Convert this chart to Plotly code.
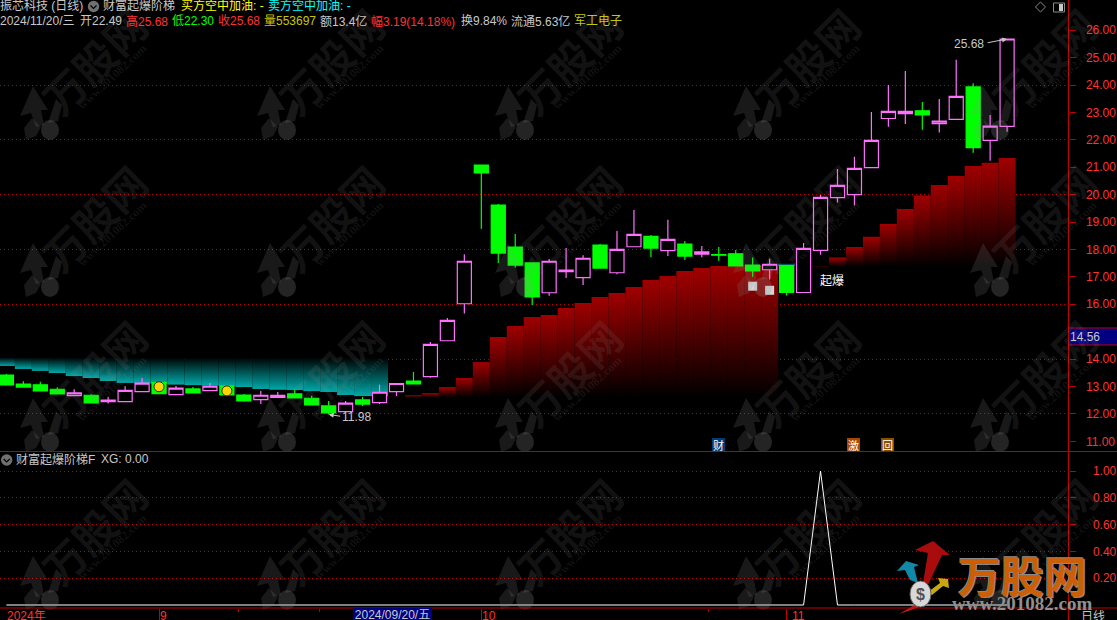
import plotly.graph_objects as go

# ---------- data ----------
opens  = [13.42,13.09,13.06,12.90,12.67,12.68,12.45,12.45,12.81,13.14,12.70,12.91,12.85,13.02,12.69,12.52,12.60,12.73,12.57,12.29,
          12.08,12.51,12.41,12.81,13.20,13.36,14.67,16.02,21.08,19.62,18.09,17.51,16.42,17.19,16.97,18.16,17.15,18.10,18.48,17.96,
          18.20,17.83,17.81,17.84,17.43,17.26,17.41,16.43,17.97,19.89,20.00,20.99,22.78,22.96,23.06,22.59,22.75,23.93,21.98,22.49]
highs  = [13.46,13.19,13.17,12.97,12.90,12.72,12.62,13.01,13.31,13.18,13.02,12.98,13.13,13.02,12.73,12.84,12.80,12.88,12.66,12.47,
          12.47,12.62,13.06,13.11,13.53,14.62,15.50,17.83,21.08,19.66,18.56,17.51,17.65,18.05,17.79,18.20,18.67,19.44,18.53,19.08,
          18.31,18.13,18.09,17.98,17.71,17.66,17.41,18.24,19.99,20.94,21.38,23.02,24.00,24.51,23.38,23.49,24.92,24.07,22.91,25.68]
lows   = [13.03,12.98,12.84,12.73,12.67,12.40,12.38,12.45,12.81,12.74,12.70,12.74,12.85,12.69,12.44,12.36,12.60,12.58,12.33,11.98,
          12.08,12.29,12.36,12.65,13.09,13.32,14.67,15.66,18.76,17.51,17.34,15.97,16.31,16.96,16.70,17.32,17.10,18.10,17.72,17.76,
          17.62,17.72,17.59,17.40,17.00,16.90,16.32,16.43,17.81,19.71,19.60,20.99,22.48,22.58,22.37,22.27,22.75,21.53,21.24,22.30]
closes = [13.06,12.98,12.84,12.73,12.77,12.40,12.50,12.86,13.12,12.74,12.94,12.77,13.01,12.69,12.47,12.68,12.68,12.58,12.33,12.04,
          12.39,12.36,12.79,13.11,13.09,14.54,15.41,17.57,20.79,17.87,17.43,16.27,17.57,17.25,17.68,17.32,18.00,18.55,18.05,18.37,
          17.76,17.91,17.79,17.40,17.22,17.46,16.43,18.04,19.90,20.34,20.96,21.98,23.04,23.04,22.91,22.68,23.59,21.72,22.50,25.68]
xg = [0]*48 + [1] + [0]*11

teal_steps = [13.75,13.64,13.57,13.49,13.38,13.31,13.20,13.13,13.12,13.10,13.07,13.05,13.04,13.02,12.98,12.91,12.88,12.87,12.83,12.80,12.69,12.65,12.65]
teal_top = 14.06
red_left_idx = list(range(23, 46))
red_left = [12.62,12.68,12.76,12.98,13.31,13.89,14.81,15.21,15.54,15.61,15.86,16.05,16.27,16.41,16.63,16.89,17.03,17.21,17.32,17.40,17.41,17.42,17.43]
red_left_base = 12.60
red_right_idx = list(range(48, 60))
red_right = [17.39,17.71,18.09,18.46,18.93,19.48,19.97,20.35,20.68,21.05,21.16,21.34]
red_right_base = 17.37
teal_thin_idx, teal_thin_low, teal_thin_high = 46, 17.41, 17.50

dot_idx = [9, 13]
dot_val = [12.99, 12.84]
sq_idx = [44, 45]
sq_val = [16.66, 16.51]

price_ticks = [11, 12, 13, 14, 16, 17, 18, 19, 20, 21, 22, 23, 24, 25, 26]
grid_ticks = [12, 14, 16, 18, 20, 22, 24]
sub_ticks = [0.2, 0.4, 0.6, 0.8, 1.0]
month_major = [9, 28, 46]
month_minor = [13.7, 18.45, 41.4]

# ---------- layout helpers (pixels) ----------
W, H = 1117, 620
AX = 1068.5
RED = "#ff3232"
LINE = "#c00000"
GRID = "#c00000"
GRAY = "#c8c8c8"
CJK = "Noto Sans CJK SC"
LAT = "Liberation Sans"
MIX = "Liberation Sans, Noto Sans CJK SC"

def px(x): return x / W
def py(y): return 1 - y / H

fig = go.Figure()
ix = list(range(60))

def column(i, v, base, top_color):
    # one stepped column filled from its own value (colour) to the base (black)
    xs = [i - 0.5, i + 0.5]
    fig.add_trace(go.Scatter(x=xs, y=[base, base], mode="lines", line=dict(width=0), showlegend=False, hoverinfo="skip"))
    fig.add_trace(go.Scatter(x=xs, y=[v, v], mode="lines", line=dict(width=0), showlegend=False, hoverinfo="skip", fill="tonexty",
                             fillgradient=dict(type="vertical", colorscale=[[0, top_color], [1, "#000000"]], start=v, stop=base)))

for i, v in enumerate(teal_steps):
    column(i, v, teal_top, "#00a8a8")
column(teal_thin_idx, teal_thin_low, teal_thin_high, "#00a8a8")
for i, v in zip(red_left_idx, red_left):
    column(i, v, red_left_base, "#a00000")
for i, v in zip(red_right_idx, red_right):
    column(i, v, red_right_base, "#a00000")

fig.add_trace(go.Candlestick(x=ix, open=opens, high=highs, low=lows, close=closes, yaxis="y2",
                             increasing=dict(line=dict(color="#ff70ff", width=1.2), fillcolor="rgba(0,0,0,1)"),
                             decreasing=dict(line=dict(color="#00ff00", width=1.2), fillcolor="#00ff00"),
                             whiskerwidth=0, showlegend=False, hoverinfo="skip"))
fig.add_trace(go.Scatter(x=dot_idx, y=dot_val, yaxis="y2", mode="markers", showlegend=False, hoverinfo="skip",
                         marker=dict(symbol="circle", size=10, color="#ffd400", line=dict(color="#3a2a00", width=1))))
fig.add_trace(go.Scatter(x=sq_idx, y=sq_val, yaxis="y2", mode="markers", showlegend=False, hoverinfo="skip",
                         marker=dict(symbol="square", size=9, color="#d4d4d4", line=dict(width=0))))
fig.add_trace(go.Scatter(x=ix, y=xg, xaxis="x3", yaxis="y3", mode="lines", line=dict(color="#ffffff", width=1), showlegend=False, hoverinfo="skip"))

ann = []
def T(x, y, s, color=GRAY, size=12, fam=MIX, anchor="left", va="middle", **kw):
    font = dict(color=color, size=size, family=fam)
    if "shadow" in kw:
        font["shadow"] = kw.pop("shadow")
    ann.append(dict(xref="paper", yref="paper", x=px(x), y=py(y), text=s, showarrow=False, xanchor=anchor, yanchor=va,
                    font=font, borderpad=0, borderwidth=0, **kw))

shapes = []
def poly(pts, color):
    path = "M" + " L".join(f"{px(a):.5f},{py(b):.5f}" for a, b in pts) + " Z"
    shapes.append(dict(type="path", xref="paper", yref="paper", path=path, fillcolor=color, line=dict(width=0), layer="above"))
def circle(x0, x1, y0, y1, fill, **line):
    shapes.append(dict(type="circle", xref="paper", yref="paper", x0=px(x0), x1=px(x1), y0=py(y1), y1=py(y0),
                       fillcolor=fill, line=line or dict(width=0)))
def seg(pts, color, width=1):
    path = "M" + " L".join(f"{px(a):.5f},{py(b):.5f}" for a, b in pts)
    shapes.append(dict(type="path", xref="paper", yref="paper", path=path, line=dict(color=color, width=width)))

# watermark tiles
WM = "rgba(150,150,150,0.12)"
WI = "rgba(150,150,150,0.17)"
for cx in (93, 330, 568, 806, 1043):
    for cy in (60, 217, 372, 530):
        T(cx, cy, "<b>万股网</b>", WM, 42, CJK, "center", textangle=-45)
        T(cx+19, cy+17, "<b>www.201082.com</b>", WM, 12, "Liberation Serif", "center", textangle=-43)
        ox, oy = cx-53, cy+53
        poly([(ox-20,oy+3),(ox-7,oy-27),(ox+8,oy-3),(ox+1,oy-3),(ox+4,oy+12),(ox-4,oy+14),(ox-9,oy)], WI)
        poly([(ox-16,oy+15),(ox-8,oy+5),(ox+1,oy+14),(ox-4,oy+23),(ox-14,oy+27)], WI)
        poly([(ox+8,oy+10),(ox+16,oy-14),(ox+22,oy-8),(ox+18,oy+8)], WI)
        circle(ox+1, ox+19, oy+7, oy+27, "rgba(150,150,150,0.24)")

# header row 1
T(0, 6, "振芯科技 (日线)")
T(103, 6, "财富起爆阶梯")
T(181, 6, "买方空中加油: -", "#ffff00")
T(268, 6, "卖方空中加油: -", "#00ffff")
# header row 2
T(0, 21, "2024/11/20/三")
T(80, 21, "开22.49")
T(126, 21, "高25.68", RED)
T(172, 21, "低22.30", "#00ff00")
T(218, 21, "收25.68", RED)
T(264, 21, "量553697", "#c8c800")
T(320, 21, "额13.4亿")
T(371, 21, "幅3.19(14.18%)", RED)
T(461, 21, "换9.84%")
T(511, 21, "流通5.63亿")
T(574, 21, "军工电子", "#c8c800")
# labels in the chart
T(954, 44, "25.68", GRAY, 12, LAT)
T(820, 279, "起爆", "#ffffff", 12, CJK)
T(342, 417, "11.98", GRAY, 12, LAT)
ann.append(dict(xref="x", yref="y2", x=59, y=25.68, ax=-21, ay=4, showarrow=True, arrowhead=2, arrowsize=1, arrowwidth=1, arrowcolor=GRAY, text=""))
ann.append(dict(xref="x", yref="y2", x=19, y=11.98, ax=13, ay=2, showarrow=True, arrowhead=2, arrowsize=1, arrowwidth=1, arrowcolor=GRAY, text=""))
# sub panel title
T(16, 459, "财富起爆阶梯F")
T(101, 459, "XG: 0.00", GRAY, 12, LAT)
# right price tag
shapes.append(dict(type="rect", xref="paper", yref="paper", x0=px(AX), x1=1, y0=py(345), y1=py(328), fillcolor="#000080", line=dict(width=0), layer="above"))
for yy in (328, 345):
    seg([(AX, yy), (W, yy)], LINE)
T(1070, 336.5, "14.56", GRAY, 12, LAT)
# signal tags
T(718.5, 444, "财", "#ffffff", 11, CJK, "center", bgcolor="#003c78", width=13, height=13)
T(853.5, 444, "激", "#ffffff", 11, CJK, "center", bgcolor="#a84800", width=13, height=13)
T(887.5, 444, "回", "#ffffff", 11, CJK, "center", bgcolor="#8a5000", width=13, height=13)
# bottom axis
T(7, 616, "2024年", RED, 12, MIX)
T(160, 616, "9", RED, 12, LAT)
T(482, 616, "10", RED, 12, LAT)
T(792, 616, "11", RED, 12, LAT)
T(353, 615, "2024/09/20/五", GRAY, 12, MIX, bgcolor="#000080", bordercolor="#2020d0", width=79, height=14)
T(1081, 615, "日线", GRAY, 12, CJK)

# logo
for pts, c in (
    ([(915,550),(933,541),(950,555),(942,555),(928,585),(923,583),(928,553)], "#a80c0c"),
    ([(897,571),(906,561),(919,565),(914,567),(918,583),(910,580),(905,570)], "#1088a8"),
    ([(938,578),(948,579),(949,588),(943,586),(932,595),(928,592),(940,583)], "#c8a810"),
    ([(899,614),(918,603),(920,607)], "#c02020"),
):
    poly(pts, c)
circle(910, 931, 581, 607, "#d8d8d8", color="#606060", width=1)
T(920, 594, "<b>$</b>", "#505050", 16, LAT, "center")
T(1022, 574, "<b>万股网</b>", "#cc5e05", 43, CJK, "center", shadow="1px 1px 0 #8a8a8a, -1px -1px 0 #8a8a8a")
T(1022, 603, "<b>www.201082.com</b>", "#909090", 19, "Liberation Serif", "center")

# panel lines
for y in (451.5, 608):
    seg([(0, y), (W, y)], LINE)
seg([(AX, 0), (AX, H)], LINE)
# top icons
seg([(1040.5,2),(1045.5,7),(1040.5,12),(1035.5,7),(1040.5,2)], "#8a8a8a")
shapes.append(dict(type="rect", xref="paper", yref="paper", x0=px(1053.5), x1=px(1064.5), y0=py(12), y1=py(3), fillcolor="#000000", line=dict(color="#8a8a8a", width=1)))
shapes.append(dict(type="rect", xref="paper", yref="paper", x0=px(1059), x1=px(1063), y0=py(11), y1=py(4), fillcolor="#c8c8c8", line=dict(width=0)))
for c, cy in ((93.5, 6.5), (6.7, 460)):
    circle(c-5.7, c+5.7, cy-5.7, cy+5.7, "#707070")
    seg([(c-3, cy-1), (c, cy+2), (c+3, cy-1)], "#000000", 1.2)

axfont = dict(color=RED, size=12, family=LAT)
xr = [-0.377, 62.62]
main_dom = [py(451), py(19)]
main_rng = [10.646, 26.41]
fig.update_layout(
    width=W, height=H, autosize=False, margin=dict(l=0, r=0, t=0, b=0),
    paper_bgcolor="#000000", plot_bgcolor="#000000", showlegend=False, boxgap=0.17, boxgroupgap=0,
    annotations=ann, shapes=shapes,
    xaxis=dict(domain=[0, px(AX)], range=xr, visible=False, rangeslider=dict(visible=False), anchor="y"),
    yaxis=dict(domain=main_dom, range=main_rng, side="left", showticklabels=False, ticks="", showline=False, zeroline=False,
               tickvals=grid_ticks, showgrid=True, gridcolor=GRID, griddash="1px,3px", gridwidth=1),
    yaxis2=dict(domain=main_dom, range=main_rng, overlaying="y", side="right", anchor="x", tickvals=price_ticks,
                ticktext=[f"{v:.2f}" for v in price_ticks], ticks="outside", ticklen=6, tickcolor=LINE, showgrid=False, zeroline=False,
                showline=False, tickfont=axfont, ticklabelstandoff=8),
    xaxis3=dict(domain=[0, px(AX)], range=xr, anchor="y3", showgrid=False, zeroline=False, showline=False, showticklabels=False,
                tickvals=month_major, ticks="outside", ticklen=12, tickcolor=LINE,
                minor=dict(tickvals=month_minor, ticks="outside", ticklen=3, tickcolor=LINE)),
    yaxis3=dict(domain=[py(608), py(452)], range=[-0.0224, 1.142], side="right", anchor="x3", tickvals=sub_ticks,
                ticktext=[f"{v:.2f}" for v in sub_ticks], ticks="outside", ticklen=6, tickcolor=LINE, showgrid=True, gridcolor=GRID,
                griddash="1px,3px", gridwidth=1, zeroline=False, showline=False, tickfont=axfont, ticklabelstandoff=15),
)
fig.write_html("out.html", config=dict(displayModeBar=False),
               post_script="document.body.style.margin='0';document.body.style.overflow='hidden';document.body.style.background='#000';")
